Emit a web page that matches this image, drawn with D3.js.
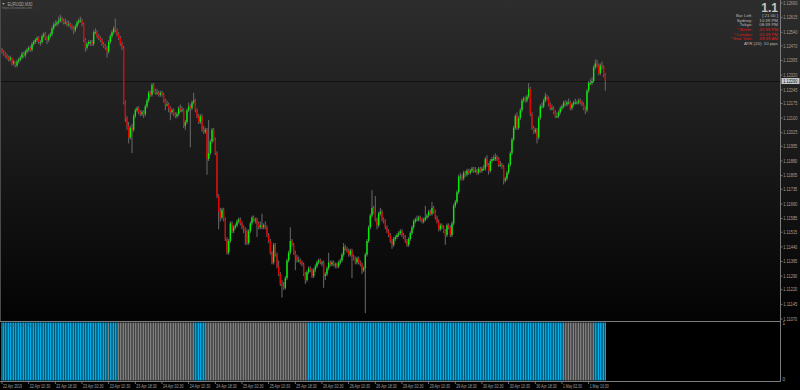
<!DOCTYPE html>
<html><head><meta charset="utf-8">
<script src="https://cdn.jsdelivr.net/npm/d3@7"></script>
<style>html,body{margin:0;padding:0;background:#000;overflow:hidden}</style>
</head><body>
<script>
// ---------------- DATA ----------------
const symbolTitle = "EURUSD,M30";
const sourceText = "https://fxstation.com";
const indicatorTitle = "TrendDirection (1) 1.0000";

const opens = [
1.1245,1.1244,1.1243,1.1242,1.1241,1.1240,1.1241,1.1238,1.1239,1.1237,
1.1239,1.1240,1.1241,1.1243,1.1242,1.1244,1.1245,1.1246,1.1245,1.1248,
1.1249,1.1250,1.1251,1.1249,1.1249,1.1252,1.1253,1.1251,1.1250,1.1252,
1.1253,1.1256,1.1258,1.1258,1.1259,1.1260,1.1261,1.1260,1.1259,1.1259,
1.1258,1.1258,1.1257,1.1256,1.1255,1.1257,1.1259,1.1260,1.1260,1.1258,
1.1250,1.1246,1.1248,1.1249,1.1249,1.1248,1.1254,1.1254,1.1252,1.1251,
1.1250,1.1248,1.1247,1.1246,1.1244,1.1249,1.1252,1.1254,1.1256,1.1255,
1.1253,1.1251,1.1248,1.1246,1.1218,1.1210,1.1206,1.1200,1.1205,1.1204,
1.1211,1.1214,1.1215,1.1213,1.1212,1.1213,1.1212,1.1216,1.1219,1.1223,
1.1222,1.1227,1.1224,1.1223,1.1223,1.1222,1.1223,1.1222,1.1219,1.1217,
1.1217,1.1215,1.1213,1.1214,1.1212,1.1211,1.1212,1.1215,1.1214,1.1214,
1.1206,1.1208,1.1214,1.1216,1.1215,1.1218,1.1219,1.1214,1.1211,1.1208,
1.1211,1.1204,1.1203,1.1204,1.1189,1.1192,1.1198,1.1204,1.1199,1.1192,
1.1170,1.1162,1.1159,1.1163,1.1158,1.1148,1.1141,1.1147,1.1156,1.1152,
1.1154,1.1155,1.1157,1.1158,1.1156,1.1154,1.1153,1.1152,1.1146,1.1152,
1.1156,1.1159,1.1158,1.1158,1.1156,1.1154,1.1155,1.1154,1.1155,1.1154,
1.1150,1.1147,1.1141,1.1136,1.1145,1.1140,1.1134,1.1130,1.1125,1.1124,
1.1123,1.1128,1.1137,1.1141,1.1147,1.1145,1.1141,1.1139,1.1137,1.1137,
1.1136,1.1135,1.1130,1.1127,1.1131,1.1133,1.1132,1.1129,1.1132,1.1134,
1.1136,1.1137,1.1136,1.1136,1.1129,1.1130,1.1133,1.1136,1.1135,1.1136,
1.1135,1.1135,1.1134,1.1136,1.1137,1.1140,1.1144,1.1143,1.1142,1.1140,
1.1142,1.1139,1.1138,1.1136,1.1138,1.1136,1.1135,1.1132,1.1133,1.1140,
1.1147,1.1154,1.1160,1.1164,1.1162,1.1158,1.1155,1.1161,1.1162,1.1158,
1.1157,1.1154,1.1152,1.1150,1.1147,1.1145,1.1148,1.1149,1.1150,1.1151,
1.1152,1.1150,1.1149,1.1147,1.1145,1.1148,1.1151,1.1154,1.1157,1.1158,
1.1158,1.1159,1.1158,1.1157,1.1158,1.1159,1.1160,1.1162,1.1161,1.1164,
1.1162,1.1159,1.1157,1.1153,1.1155,1.1154,1.1152,1.1150,1.1155,1.1154,
1.1150,1.1156,1.1165,1.1167,1.1172,1.1180,1.1180,1.1179,1.1182,1.1181,
1.1183,1.1182,1.1183,1.1184,1.1183,1.1183,1.1182,1.1184,1.1183,1.1184,
1.1184,1.1189,1.1186,1.1183,1.1188,1.1189,1.1189,1.1190,1.1189,1.1186,
1.1186,1.1185,1.1178,1.1179,1.1182,1.1186,1.1192,1.1199,1.1205,1.1211,
1.1205,1.1210,1.1214,1.1219,1.1220,1.1219,1.1221,1.1225,1.1212,1.1205,
1.1203,1.1204,1.1200,1.1210,1.1216,1.1216,1.1219,1.1221,1.1220,1.1217,
1.1215,1.1215,1.1213,1.1211,1.1211,1.1213,1.1215,1.1216,1.1218,1.1217,
1.1218,1.1218,1.1215,1.1217,1.1218,1.1218,1.1218,1.1219,1.1218,1.1217,
1.1215,1.1214,1.1224,1.1228,1.1228,1.1229,1.1236,1.1238,1.1237,1.1233,
1.1237,1.1236,1.1232];

const highs = [
1.1246,1.1245,1.1244,1.1243,1.1242,1.1242,1.1241,1.1240,1.1239,1.1240,
1.1241,1.1242,1.1244,1.1244,1.1245,1.1246,1.1247,1.1247,1.1249,1.1250,
1.1251,1.1252,1.1252,1.1250,1.1253,1.1254,1.1254,1.1252,1.1253,1.1254,
1.1257,1.1259,1.1260,1.1260,1.1262,1.1263,1.1262,1.1261,1.1261,1.1260,
1.1260,1.1259,1.1258,1.1257,1.1258,1.1260,1.1261,1.1262,1.1261,1.1259,
1.1251,1.1249,1.1250,1.1250,1.1250,1.1255,1.1256,1.1255,1.1253,1.1252,
1.1251,1.1249,1.1248,1.1247,1.1250,1.1253,1.1255,1.1257,1.1261,1.1256,
1.1254,1.1252,1.1249,1.1247,1.1219,1.1211,1.1208,1.1206,1.1207,1.1212,
1.1215,1.1216,1.1216,1.1214,1.1214,1.1214,1.1217,1.1220,1.1224,1.1224,
1.1228,1.1228,1.1225,1.1225,1.1224,1.1224,1.1224,1.1223,1.1220,1.1219,
1.1218,1.1216,1.1215,1.1215,1.1213,1.1213,1.1216,1.1217,1.1216,1.1215,
1.1209,1.1215,1.1218,1.1217,1.1219,1.1223,1.1220,1.1215,1.1212,1.1212,
1.1212,1.1206,1.1205,1.1205,1.1209,1.1199,1.1205,1.1205,1.1200,1.1193,
1.1171,1.1164,1.1164,1.1164,1.1159,1.1149,1.1148,1.1157,1.1157,1.1155,
1.1156,1.1158,1.1159,1.1159,1.1157,1.1155,1.1154,1.1153,1.1153,1.1157,
1.1160,1.1160,1.1159,1.1159,1.1157,1.1157,1.1161,1.1156,1.1157,1.1155,
1.1151,1.1148,1.1142,1.1146,1.1146,1.1141,1.1137,1.1131,1.1127,1.1126,
1.1129,1.1138,1.1142,1.1154,1.1148,1.1146,1.1142,1.1140,1.1139,1.1138,
1.1137,1.1136,1.1131,1.1132,1.1134,1.1134,1.1133,1.1133,1.1135,1.1137,
1.1138,1.1138,1.1137,1.1137,1.1131,1.1134,1.1141,1.1137,1.1137,1.1137,
1.1136,1.1136,1.1137,1.1138,1.1141,1.1146,1.1145,1.1144,1.1143,1.1143,
1.1143,1.1140,1.1139,1.1139,1.1139,1.1137,1.1136,1.1134,1.1141,1.1148,
1.1155,1.1161,1.1173,1.1165,1.1170,1.1159,1.1162,1.1164,1.1163,1.1159,
1.1158,1.1155,1.1153,1.1151,1.1148,1.1149,1.1150,1.1151,1.1152,1.1153,
1.1153,1.1151,1.1150,1.1148,1.1149,1.1152,1.1155,1.1158,1.1159,1.1160,
1.1160,1.1160,1.1159,1.1159,1.1165,1.1161,1.1163,1.1163,1.1167,1.1165,
1.1163,1.1160,1.1158,1.1156,1.1156,1.1155,1.1153,1.1156,1.1156,1.1155,
1.1157,1.1166,1.1168,1.1173,1.1181,1.1182,1.1181,1.1183,1.1183,1.1184,
1.1184,1.1184,1.1185,1.1185,1.1185,1.1184,1.1185,1.1185,1.1185,1.1186,
1.1190,1.1191,1.1187,1.1189,1.1190,1.1191,1.1192,1.1191,1.1190,1.1188,
1.1187,1.1186,1.1180,1.1183,1.1187,1.1193,1.1200,1.1206,1.1212,1.1213,
1.1211,1.1215,1.1220,1.1221,1.1221,1.1222,1.1228,1.1226,1.1213,1.1206,
1.1205,1.1205,1.1211,1.1217,1.1218,1.1220,1.1223,1.1222,1.1221,1.1218,
1.1217,1.1216,1.1214,1.1213,1.1214,1.1216,1.1217,1.1219,1.1219,1.1219,
1.1220,1.1219,1.1218,1.1219,1.1220,1.1219,1.1220,1.1220,1.1219,1.1218,
1.1216,1.1225,1.1229,1.1230,1.1231,1.1237,1.1240,1.1240,1.1238,1.1238,
1.1239,1.1237,1.1233];

const lows = [
1.1243,1.1242,1.1241,1.1240,1.1239,1.1239,1.1237,1.1237,1.1236,1.1236,
1.1238,1.1239,1.1240,1.1241,1.1241,1.1243,1.1244,1.1244,1.1244,1.1247,
1.1248,1.1249,1.1248,1.1247,1.1248,1.1251,1.1250,1.1248,1.1249,1.1251,
1.1252,1.1255,1.1257,1.1257,1.1258,1.1259,1.1259,1.1258,1.1258,1.1257,
1.1257,1.1256,1.1255,1.1253,1.1254,1.1256,1.1258,1.1259,1.1257,1.1249,
1.1244,1.1245,1.1247,1.1247,1.1247,1.1247,1.1253,1.1251,1.1250,1.1249,
1.1247,1.1246,1.1245,1.1241,1.1243,1.1248,1.1251,1.1253,1.1254,1.1252,
1.1250,1.1247,1.1245,1.1217,1.1208,1.1204,1.1197,1.1199,1.1192,1.1203,
1.1210,1.1213,1.1212,1.1211,1.1211,1.1210,1.1211,1.1215,1.1218,1.1221,
1.1221,1.1223,1.1222,1.1222,1.1221,1.1221,1.1221,1.1218,1.1214,1.1216,
1.1213,1.1209,1.1212,1.1211,1.1210,1.1210,1.1211,1.1213,1.1213,1.1205,
1.1204,1.1207,1.1213,1.1195,1.1214,1.1217,1.1213,1.1210,1.1207,1.1207,
1.1203,1.1202,1.1202,1.1181,1.1188,1.1191,1.1197,1.1198,1.1191,1.1169,
1.1153,1.1157,1.1158,1.1157,1.1147,1.1140,1.1140,1.1146,1.1151,1.1151,
1.1153,1.1154,1.1156,1.1155,1.1153,1.1151,1.1145,1.1145,1.1145,1.1151,
1.1155,1.1157,1.1156,1.1149,1.1153,1.1153,1.1153,1.1153,1.1153,1.1149,
1.1146,1.1140,1.1135,1.1135,1.1139,1.1133,1.1129,1.1124,1.1118,1.1122,
1.1122,1.1127,1.1136,1.1140,1.1144,1.1140,1.1132,1.1136,1.1136,1.1135,
1.1134,1.1129,1.1125,1.1126,1.1130,1.1131,1.1128,1.1128,1.1131,1.1133,
1.1135,1.1135,1.1134,1.1123,1.1127,1.1129,1.1132,1.1134,1.1134,1.1134,
1.1133,1.1133,1.1133,1.1135,1.1136,1.1139,1.1142,1.1141,1.1139,1.1139,
1.1128,1.1137,1.1135,1.1135,1.1135,1.1134,1.1130,1.1131,1.1110,1.1139,
1.1146,1.1153,1.1159,1.1161,1.1157,1.1153,1.1154,1.1160,1.1157,1.1156,
1.1153,1.1151,1.1149,1.1146,1.1143,1.1144,1.1147,1.1148,1.1149,1.1150,
1.1149,1.1148,1.1146,1.1144,1.1144,1.1147,1.1150,1.1153,1.1156,1.1157,
1.1157,1.1157,1.1156,1.1156,1.1157,1.1158,1.1159,1.1160,1.1160,1.1161,
1.1158,1.1156,1.1152,1.1152,1.1153,1.1151,1.1145,1.1149,1.1153,1.1149,
1.1149,1.1155,1.1164,1.1166,1.1171,1.1178,1.1178,1.1178,1.1180,1.1180,
1.1181,1.1181,1.1182,1.1182,1.1182,1.1181,1.1181,1.1182,1.1182,1.1183,
1.1183,1.1185,1.1181,1.1182,1.1187,1.1188,1.1188,1.1188,1.1185,1.1185,
1.1184,1.1176,1.1177,1.1178,1.1181,1.1185,1.1191,1.1198,1.1204,1.1204,
1.1204,1.1209,1.1213,1.1218,1.1218,1.1218,1.1220,1.1211,1.1204,1.1202,
1.1202,1.1197,1.1199,1.1209,1.1215,1.1215,1.1218,1.1219,1.1216,1.1214,
1.1214,1.1212,1.1210,1.1210,1.1210,1.1212,1.1214,1.1215,1.1216,1.1216,
1.1217,1.1214,1.1214,1.1216,1.1217,1.1217,1.1217,1.1217,1.1216,1.1214,
1.1212,1.1213,1.1223,1.1227,1.1227,1.1228,1.1235,1.1236,1.1232,1.1232,
1.1235,1.1231,1.1224];

const closes = [
1.1244,1.1243,1.1242,1.1241,1.1240,1.1241,1.1238,1.1239,1.1237,1.1239,
1.1240,1.1241,1.1243,1.1242,1.1244,1.1245,1.1246,1.1245,1.1248,1.1249,
1.1250,1.1251,1.1249,1.1249,1.1252,1.1253,1.1251,1.1250,1.1252,1.1253,
1.1256,1.1258,1.1258,1.1259,1.1260,1.1261,1.1260,1.1259,1.1259,1.1258,
1.1258,1.1257,1.1256,1.1255,1.1257,1.1259,1.1260,1.1260,1.1258,1.1250,
1.1246,1.1248,1.1249,1.1249,1.1248,1.1254,1.1254,1.1252,1.1251,1.1250,
1.1248,1.1247,1.1246,1.1244,1.1249,1.1252,1.1254,1.1256,1.1255,1.1253,
1.1251,1.1248,1.1246,1.1218,1.1210,1.1206,1.1200,1.1205,1.1204,1.1211,
1.1214,1.1215,1.1213,1.1212,1.1213,1.1212,1.1216,1.1219,1.1223,1.1222,
1.1227,1.1224,1.1223,1.1223,1.1222,1.1223,1.1222,1.1219,1.1217,1.1217,
1.1215,1.1213,1.1214,1.1212,1.1211,1.1212,1.1215,1.1214,1.1214,1.1206,
1.1208,1.1214,1.1216,1.1215,1.1218,1.1219,1.1214,1.1211,1.1208,1.1211,
1.1204,1.1203,1.1204,1.1189,1.1192,1.1198,1.1204,1.1199,1.1192,1.1170,
1.1162,1.1159,1.1163,1.1158,1.1148,1.1141,1.1147,1.1156,1.1152,1.1154,
1.1155,1.1157,1.1158,1.1156,1.1154,1.1153,1.1152,1.1146,1.1152,1.1156,
1.1159,1.1158,1.1158,1.1156,1.1154,1.1155,1.1154,1.1155,1.1154,1.1150,
1.1147,1.1141,1.1136,1.1145,1.1140,1.1134,1.1130,1.1125,1.1124,1.1123,
1.1128,1.1137,1.1141,1.1147,1.1145,1.1141,1.1139,1.1137,1.1137,1.1136,
1.1135,1.1130,1.1127,1.1131,1.1133,1.1132,1.1129,1.1132,1.1134,1.1136,
1.1137,1.1136,1.1136,1.1129,1.1130,1.1133,1.1136,1.1135,1.1136,1.1135,
1.1135,1.1134,1.1136,1.1137,1.1140,1.1144,1.1143,1.1142,1.1140,1.1142,
1.1139,1.1138,1.1136,1.1138,1.1136,1.1135,1.1132,1.1133,1.1140,1.1147,
1.1154,1.1160,1.1164,1.1162,1.1158,1.1155,1.1161,1.1162,1.1158,1.1157,
1.1154,1.1152,1.1150,1.1147,1.1145,1.1148,1.1149,1.1150,1.1151,1.1152,
1.1150,1.1149,1.1147,1.1145,1.1148,1.1151,1.1154,1.1157,1.1158,1.1158,
1.1159,1.1158,1.1157,1.1158,1.1159,1.1160,1.1162,1.1161,1.1164,1.1162,
1.1159,1.1157,1.1153,1.1155,1.1154,1.1152,1.1150,1.1155,1.1154,1.1150,
1.1156,1.1165,1.1167,1.1172,1.1180,1.1180,1.1179,1.1182,1.1181,1.1183,
1.1182,1.1183,1.1184,1.1183,1.1183,1.1182,1.1184,1.1183,1.1184,1.1184,
1.1189,1.1186,1.1183,1.1188,1.1189,1.1189,1.1190,1.1189,1.1186,1.1186,
1.1185,1.1178,1.1179,1.1182,1.1186,1.1192,1.1199,1.1205,1.1211,1.1205,
1.1210,1.1214,1.1219,1.1220,1.1219,1.1221,1.1225,1.1212,1.1205,1.1203,
1.1204,1.1200,1.1210,1.1216,1.1216,1.1219,1.1221,1.1220,1.1217,1.1215,
1.1215,1.1213,1.1211,1.1211,1.1213,1.1215,1.1216,1.1218,1.1217,1.1218,
1.1218,1.1215,1.1217,1.1218,1.1218,1.1218,1.1219,1.1218,1.1217,1.1215,
1.1214,1.1224,1.1228,1.1228,1.1229,1.1236,1.1238,1.1237,1.1233,1.1237,
1.1236,1.1232,1.1229];

// trend histogram: state runs (number of consecutive bars in each state)
const trendStates  = ["up","down","up","down","up","down","up","down","up"];
const trendLengths = [64, 1, 5, 45, 8, 61, 153, 18, 8];

const priceTickLabels = ["1.12690","1.12615","1.12540","1.12470","1.12395","1.12320","1.12245","1.12175",
  "1.12100","1.12025","1.11955","1.11880","1.11805","1.11735","1.11660","1.11585","1.11515","1.11440",
  "1.11365","1.11290","1.11220","1.11145","1.11070"];

const timeLabels = ["22 Apr 2019","22 Apr 10:30","22 Apr 18:30","23 Apr 02:30","23 Apr 10:30","23 Apr 18:30",
  "24 Apr 02:30","24 Apr 10:30","24 Apr 18:30","25 Apr 02:30","25 Apr 10:30","25 Apr 18:30","26 Apr 02:30",
  "26 Apr 10:30","26 Apr 18:30","29 Apr 02:30","29 Apr 10:30","29 Apr 18:30","30 Apr 02:30","30 Apr 10:30",
  "30 Apr 18:30","1 May 02:30","1 May 10:30"];
const barsPerTimeLabel = 16;

const bigQuote = "1.1";
const infoNames  = ["Bar Left:","Sydney:","Tokyo:","* Berlin:","* London:","* New York:"];
const infoValues = ["[ 21:00 ]","10:39 PM","08:39 PM","02:39 PM","01:39 PM","08:39 AM"];
const infoActive = [false,false,false,true,true,true];
const atrLine = "ATR (20):  10 pips";

// ---------------- DRAWING ----------------
const W = 800, H = 390;
const FONT = "'Liberation Sans', Arial, sans-serif";
const N = closes.length;
const axisX = 780.5, mainBottom = 321, subTop = 321, subBottom = 381.5;

const svg = d3.select("body").append("svg").attr("width", W).attr("height", H)
  .style("display","block").style("font-family", FONT);

const defs = svg.append("defs");
const grad = defs.append("linearGradient").attr("id","bg").attr("x1",0).attr("y1",0).attr("x2",0).attr("y2",1);
grad.append("stop").attr("offset","0%").attr("stop-color","#2d2d2d");
grad.append("stop").attr("offset","100%").attr("stop-color","#030303");
defs.append("clipPath").attr("id","mainClip").append("rect").attr("x",0).attr("y",0).attr("width",axisX).attr("height",mainBottom);

svg.append("rect").attr("width",W).attr("height",H).attr("fill","#000");
svg.append("rect").attr("width",W).attr("height",mainBottom).attr("fill","url(#bg)");

const x = d3.scaleLinear().domain([0, N - 1]).range([2, 605.3]);
const y = d3.scaleLinear().domain([1.1107, 1.1269]).range([319, 3]);
const ySub = d3.scaleLinear().domain([0, 1]).range([380.5, 322.5]);

const bars = d3.range(N).map(i => ({i, o: opens[i], h: highs[i], l: lows[i], c: closes[i]}));

// bid line
const lastClose = closes[N - 1];
const yBid = Math.round(y(lastClose)) + 0.5;
svg.append("line").attr("x1",0).attr("x2",axisX).attr("y1",yBid).attr("y2",yBid)
  .attr("stroke","#101010").attr("stroke-width",1);

const main = svg.append("g").attr("clip-path","url(#mainClip)");
main.selectAll("rect.wick").data(bars).join("rect").attr("class","wick")
  .attr("x", d => x(d.i) - 0.5).attr("width", 1)
  .attr("y", d => y(d.h)).attr("height", d => Math.max(1, y(d.l) - y(d.h)))
  .attr("fill", "#6a6a6a");
main.selectAll("rect.body").data(bars).join("rect").attr("class","body")
  .attr("x", d => x(d.i) - 0.7).attr("width", 1.4)
  .attr("y", d => y(Math.max(d.o, d.c)))
  .attr("height", d => Math.max(1, Math.abs(y(d.o) - y(d.c))))
  .attr("fill", d => d.c > d.o ? "#00f000" : (d.c < d.o ? "#e60000" : "#00f000"));

// top-left title
svg.append("path").attr("d","M2,3 L5,3 L3.5,5 Z").attr("fill","#9a9a9a");
svg.append("text").attr("x",7.5).attr("y",5.6).attr("font-size",4.6).attr("fill","#a8a8a8")
  .attr("textLength",25).attr("lengthAdjust","spacingAndGlyphs").text(symbolTitle);
svg.append("text").attr("x",2).attr("y",9.4).attr("font-size",4.2).attr("fill","#7a7a7a")
  .attr("textLength",30).attr("lengthAdjust","spacingAndGlyphs").text(sourceText);

// info panel (top right)
svg.append("text").attr("x",778).attr("y",11.6).attr("text-anchor","end").attr("font-size",12)
  .attr("font-weight","bold").attr("fill","#c4c4c4").text(bigQuote);
const info = svg.append("g").attr("font-size",4.4);
infoNames.forEach((nm, k) => {
  const yy = 17 + k * 4.65;
  const col = infoActive[k] ? "#e01818" : "#b8b8b8";
  info.append("text").attr("x",752.5).attr("y",yy).attr("text-anchor","end").attr("fill",col).text(nm);
  info.append("text").attr("x",778).attr("y",yy).attr("text-anchor","end").attr("fill",col).text(infoValues[k]);
});
info.append("text").attr("x",778).attr("y",17 + 6 * 4.65).attr("text-anchor","end").attr("fill","#b8b8b8").text(atrLine);

// price axis
const pa = svg.append("g").attr("font-size",4.7).attr("fill","#a0a0a0");
priceTickLabels.forEach(s => {
  const yy = y(+s);
  pa.append("line").attr("x1",axisX).attr("x2",axisX+2).attr("y1",yy).attr("y2",yy).attr("stroke","#8a8a8a").attr("stroke-width",0.8);
  pa.append("text").attr("x",783.3).attr("y",yy + 1.7)
    .attr("textLength",14).attr("lengthAdjust","spacingAndGlyphs").text(s);
});
// bid label
const yb = y(lastClose);
svg.append("rect").attr("x",781.5).attr("y",yb - 3).attr("width",18).attr("height",6).attr("fill","#c8c8c8");
svg.append("text").attr("x",783.3).attr("y",yb + 1.7).attr("font-size",4.7).attr("fill","#111")
  .attr("textLength",14).attr("lengthAdjust","spacingAndGlyphs").text(lastClose.toFixed(5));

// sub window histogram
const trend = [];
trendStates.forEach((s, k) => { for (let j = 0; j < trendLengths[k]; j++) trend.push(s); });
const sub = svg.append("g");
sub.selectAll("rect").data(trend).join("rect")
  .attr("x", (d, i) => x(i) - 0.62).attr("width", 1.24)
  .attr("y", ySub(1)).attr("height", ySub(0) - ySub(1))
  .attr("fill", d => d === "up" ? "#00b4f0" : "#858585");
svg.append("text").attr("x",2).attr("y",326.5).attr("font-size",4.3).attr("fill","#2e6f90")
  .attr("textLength",41).attr("lengthAdjust","spacingAndGlyphs").text(indicatorTitle);
svg.append("text").attr("x",782.5).attr("y",ySub(1) + 2.2).attr("font-size",4.7).attr("fill","#a0a0a0").text("1");
svg.append("text").attr("x",782.5).attr("y",ySub(0) + 0.5).attr("font-size",4.7).attr("fill","#a0a0a0").text("0");

// frame lines
svg.append("line").attr("x1",0).attr("x2",axisX).attr("y1",subTop+0.5).attr("y2",subTop+0.5).attr("stroke","#7c7c7c");
svg.append("line").attr("x1",0).attr("x2",axisX).attr("y1",subBottom).attr("y2",subBottom).attr("stroke","#7c7c7c");
svg.append("line").attr("x1",axisX).attr("x2",axisX).attr("y1",0).attr("y2",subBottom).attr("stroke","#7c7c7c");
svg.append("line").attr("x1",0.5).attr("x2",0.5).attr("y1",0).attr("y2",mainBottom).attr("stroke","#4a4a4a");

// time axis
const ta = svg.append("g").attr("font-size",4.6).attr("fill","#a0a0a0");
timeLabels.forEach((s, k) => {
  const xx = x(k * barsPerTimeLabel);
  ta.append("line").attr("x1",xx).attr("x2",xx).attr("y1",subBottom).attr("y2",subBottom+2.5).attr("stroke","#8a8a8a").attr("stroke-width",0.8);
  ta.append("text").attr("x",xx + 1).attr("y",387.6)
    .attr("textLength", s.length > 11 ? 20.5 : 19).attr("lengthAdjust","spacingAndGlyphs").text(s);
});
</script>
</body></html>
